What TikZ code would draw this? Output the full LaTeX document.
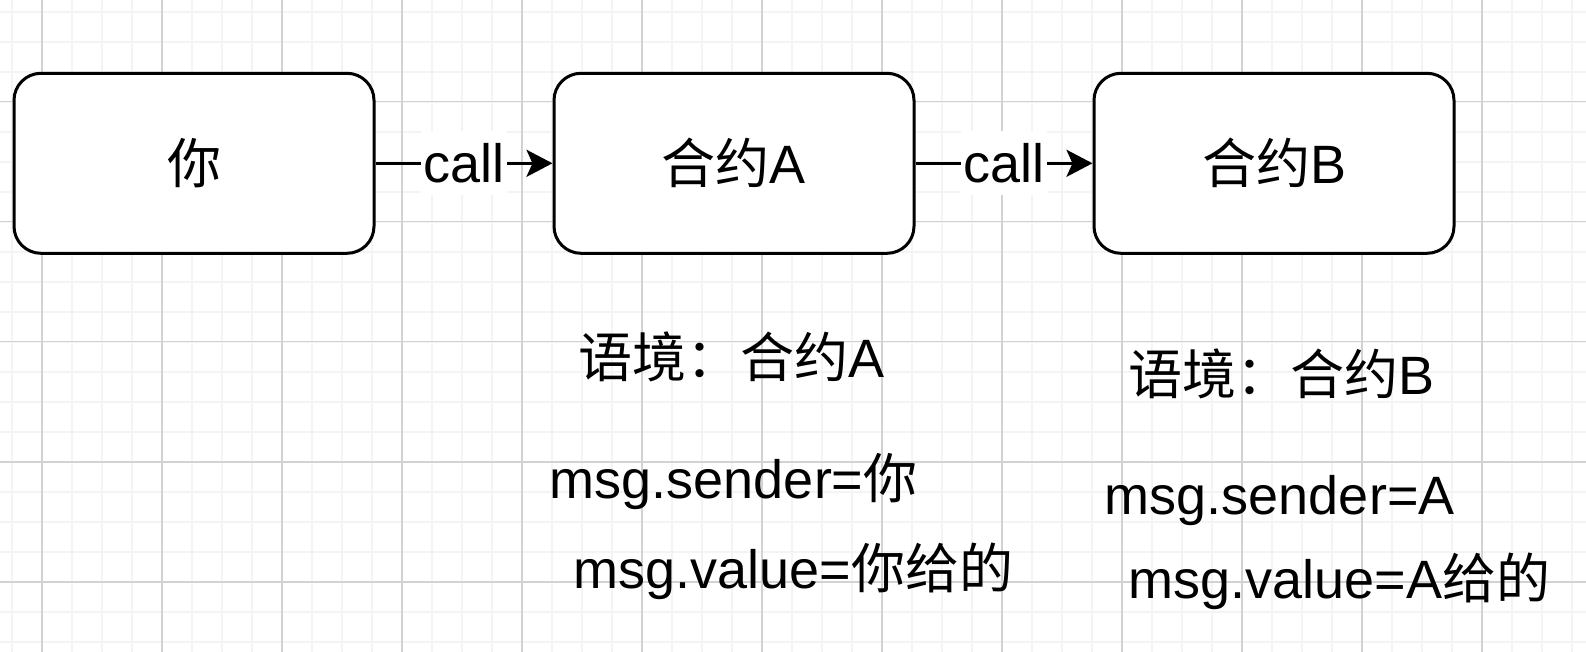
\documentclass[tikz,border=0pt]{standalone}
\usepackage{fontspec}
\setmainfont{Liberation Sans}
\newfontfamily\cjk{Noto Sans CJK SC}
\usetikzlibrary{arrows.meta}
\definecolor{gridminor}{RGB}{244,244,244}
\definecolor{gridmajor}{RGB}{210,210,210}
\begin{document}
\begin{tikzpicture}[x=0.5pt,y=-0.5pt,
  minorline/.style={draw=gridminor, line width=1pt},
  majorline/.style={draw=gridmajor, line width=0.8pt},
  box/.style={draw, line width=1.5pt, rounded corners=13.5pt, minimum width=180pt,
    minimum height=90pt, fill=white, inner sep=0pt, font=\fontsize{27}{32}\selectfont},
  conn/.style={line width=1.5pt, -{Stealth[length=13pt,width=13.5pt,inset=3pt]}},
  lbl/.style={fill=white, inner xsep=1pt, inner ysep=6pt, font=\fontsize{27}{32}\selectfont},
  txt/.style={anchor=base west, inner sep=0pt, font=\fontsize{27}{32}\selectfont}]
\useasboundingbox (0,0) rectangle (1586,652);
\fill[white] (0,0) rectangle (1586,652);
% grid
\foreach \i in {0,...,52} \draw[minorline] (11.7+30*\i,0) -- (11.7+30*\i,652);
\foreach \i in {0,...,21} \draw[minorline] (0,11.7+30*\i) -- (1586,11.7+30*\i);
\foreach \i in {0,...,12} \draw[majorline] (41.7+120*\i,0) -- (41.7+120*\i,652);
\foreach \i in {0,...,4} \draw[majorline] (0,101.7+120*\i) -- (1586,101.7+120*\i);
% boxes
\node[box] (b1) at (194,163.3) {{\cjk 你}};
\node[box] (b2) at (734,163.3) {{\cjk 合约}A};
\node[box] (b3) at (1274,163.3) {{\cjk 合约}B};
% connectors
\draw[conn] (b1) -- node[lbl] (c1) {call} (b2);
\draw[conn] (b2) -- node[lbl] (c2) {call} (b3);
% context texts
\node[txt] (ta1) at (578,378) {{\cjk 语境：合约}A};
\node[txt] (ta2) at (549.5,498) {msg.sender={\cjk 你}};
\node[txt] (ta3) at (573.5,588) {msg.value={\cjk 你给的}};
\node[txt] (tb1) at (1128,394) {{\cjk 语境：合约}B};
\node[txt] (tb2) at (1104.5,514) {msg.sender=A};
\node[txt] (tb3) at (1128.5,598) {msg.value=A{\cjk 给的}};
\end{tikzpicture}
\end{document}
